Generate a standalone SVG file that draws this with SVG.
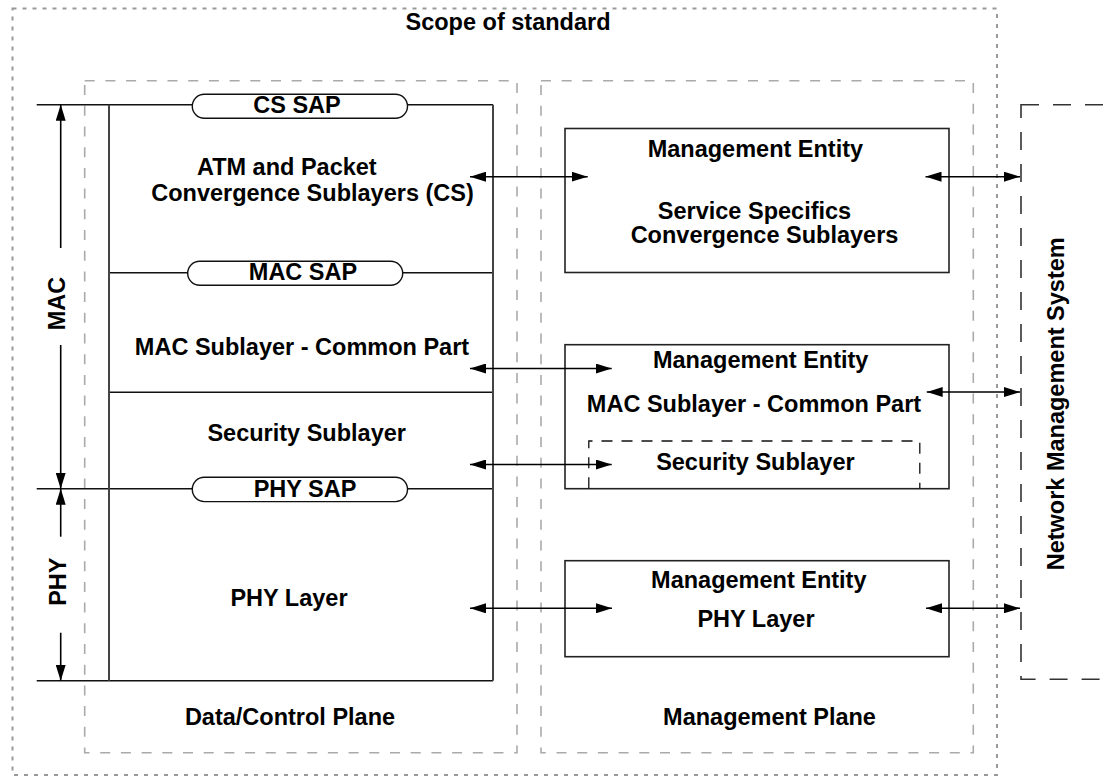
<svg xmlns="http://www.w3.org/2000/svg" width="1111" height="778" viewBox="0 0 1111 778">
<defs>
<marker id="ah" viewBox="0 0 16 10" refX="16" refY="5" markerWidth="16" markerHeight="10" markerUnits="userSpaceOnUse" orient="auto-start-reverse">
<path d="M0,0 L16,5 L0,10 z" fill="#000"/>
</marker>
<style>
text{font-family:"Liberation Sans",Arial,sans-serif;font-weight:bold;font-size:23.5px;fill:#000;text-anchor:middle}
.scope{fill:none;stroke:#999;stroke-width:2;stroke-dasharray:4 6}
.plane{fill:none;stroke:#aaa;stroke-width:1.6;stroke-dasharray:10 10.7}
.nms{fill:none;stroke:#333;stroke-width:1.6;stroke-dasharray:18 14}
.box{fill:#fff;stroke:#222;stroke-width:1.6}
.ln{fill:none;stroke:#111;stroke-width:1.6}
.vln{fill:none;stroke:#444;stroke-width:2}
.pill{fill:#fff;stroke:#111;stroke-width:1.4}
.sec{fill:none;stroke:#111;stroke-width:1.3;stroke-dasharray:11 9}
.arr{fill:none;stroke:#000;stroke-width:1.6;marker-start:url(#ah);marker-end:url(#ah)}
.arr1{fill:none;stroke:#000;stroke-width:1.6;marker-end:url(#ah)}
</style>
</defs>
<rect width="1111" height="778" fill="#fff"/>

<g id="scope">
<rect class="scope" x="12.5" y="8.5" width="984.5" height="766.5"/>
<text x="508" y="30">Scope of standard</text>
</g>

<g id="data-control-plane">
<rect class="plane" x="84.7" y="80.7" width="432.3" height="672"/>
<text x="290" y="725">Data/Control Plane</text>
</g>

<g id="management-plane">
<rect class="plane" x="541" y="80.7" width="432.3" height="672"/>
<text x="769.5" y="725">Management Plane</text>
</g>

<g id="nms">
<rect class="nms" x="1021" y="104.7" width="200" height="574.6"/>
<text transform="translate(1064.4,403.8) rotate(-90)">Network Management System</text>
</g>

<g id="data-stack">
<line class="ln" x1="36.7" y1="104.7" x2="493" y2="104.7"/>
<line class="ln" x1="109" y1="272.7" x2="493" y2="272.7"/>
<line class="ln" x1="109" y1="392.3" x2="493" y2="392.3"/>
<line class="ln" x1="36.7" y1="488.7" x2="493" y2="488.7"/>
<line class="ln" x1="36.7" y1="680.7" x2="493" y2="680.7"/>
<line class="vln" x1="109" y1="104.7" x2="109" y2="680.7"/>
<line class="vln" x1="493" y1="104.7" x2="493" y2="680.7"/>
</g>

<g id="cs-sap">
<rect class="pill" x="192.3" y="94.3" width="215.2" height="24" rx="12"/>
<text x="297" y="112.7">CS SAP</text>
</g>
<g id="cs-layer">
<text x="286.8" y="175.3">ATM and Packet</text>
<text x="312.5" y="200.8">Convergence Sublayers (CS)</text>
</g>
<g id="mac-sap">
<rect class="pill" x="187.7" y="261.3" width="215" height="24" rx="12"/>
<text x="303" y="280">MAC SAP</text>
</g>
<g id="mac-cp">
<text x="302" y="355">MAC Sublayer - Common Part</text>
</g>
<g id="security">
<text x="306.7" y="441">Security Sublayer</text>
</g>
<g id="phy-sap">
<rect class="pill" x="192.3" y="477.3" width="215.2" height="24.3" rx="12"/>
<text x="305" y="496.7">PHY SAP</text>
</g>
<g id="phy-layer">
<text x="289" y="605.7">PHY Layer</text>
</g>

<g id="me-cs">
<rect class="box" x="565" y="128.5" width="384" height="144"/>
<text x="755.4" y="156.7">Management Entity</text>
<text x="754.5" y="219.3">Service Specifics</text>
<text x="764.5" y="243.3">Convergence Sublayers</text>
</g>

<g id="me-mac">
<rect class="box" x="565" y="344.7" width="384" height="144"/>
<text x="760.7" y="368.3">Management Entity</text>
<text x="754" y="411.7">MAC Sublayer - Common Part</text>
<path class="sec" d="M588.8,488.3 V441 H919.8 V488.3"/>
<text x="755.4" y="470">Security Sublayer</text>
</g>

<g id="me-phy">
<rect class="box" x="565" y="560.7" width="384" height="96"/>
<text x="758.8" y="588.3">Management Entity</text>
<text x="756" y="626.7">PHY Layer</text>
</g>

<g id="mac-label">
<text transform="translate(64.8,303.5) rotate(-90)">MAC</text>
</g>
<g id="phy-label">
<text transform="translate(65.8,581.7) rotate(-90)">PHY</text>
</g>

<g id="connectors">
<line class="arr1" x1="60.7" y1="248" x2="60.7" y2="104.7"/>
<line class="arr1" x1="60.7" y1="345" x2="60.7" y2="488.7"/>
<line class="arr1" x1="60.7" y1="536.7" x2="60.7" y2="488.7"/>
<line class="arr1" x1="60.7" y1="632.7" x2="60.7" y2="680.7"/>
<line class="arr" x1="470" y1="176.7" x2="587.7" y2="176.7"/>
<line class="arr" x1="470" y1="368.5" x2="611.7" y2="368.5"/>
<line class="arr" x1="470" y1="464.5" x2="611.7" y2="464.5"/>
<line class="arr" x1="470" y1="608.3" x2="612" y2="608.3"/>
<line class="arr" x1="925.5" y1="176.7" x2="1020" y2="176.7"/>
<line class="arr" x1="926.7" y1="392" x2="1020" y2="392"/>
<line class="arr" x1="926" y1="608.3" x2="1020" y2="608.3"/>
</g>
</svg>
